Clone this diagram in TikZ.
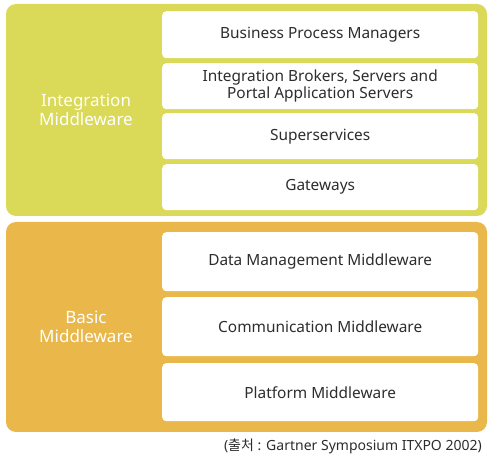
\documentclass[tikz,border=0pt]{standalone}
\usepackage{fontspec}
\setmainfont{Noto Sans}
\newfontfamily\krfont{Noto Sans CJK KR}
\begin{document}
\begin{tikzpicture}[x=1pt,y=-1pt,
  panel/.style={rounded corners=10pt},
  layerbox/.style={fill=white,rounded corners=4pt,draw=none,anchor=north west,
    minimum width=316pt,text=textgray,font=\fontsize{15.4}{17}\selectfont,align=center,inner sep=0pt},
  sidelabel/.style={text=white,font=\fontsize{17}{18.5}\selectfont,align=center}]
\definecolor{topfill}{RGB}{218,217,88}
\definecolor{botfill}{RGB}{233,183,74}
\definecolor{textgray}{RGB}{45,45,45}
\useasboundingbox (0,0) rectangle (496,457);
\fill[white] (0,0) rectangle (496,457);
% two middleware bands
\fill[topfill,panel] (6,4) rectangle (487,216);
\fill[botfill,panel] (6,222) rectangle (487,432);
\node[sidelabel] (integ) at (86,110) {Integration\\Middleware};
\node[sidelabel] (basic) at (86,327) {Basic\\Middleware};
% integration layers
\node[layerbox,minimum height=47pt] (bpm) at (162,11) {Business Process Managers};
\node[layerbox,minimum height=46pt] (brok) at (162,63) {Integration Brokers, Servers and\\Portal Application Servers};
\node[layerbox,minimum height=46pt] (super) at (162,113) {Superservices};
\node[layerbox,minimum height=46pt] (gate) at (162,164) {Gateways};
% basic layers
\node[layerbox,minimum height=59pt] (data) at (162,232) {Data Management Middleware};
\node[layerbox,minimum height=59pt] (comm) at (162,297) {Communication Middleware};
\node[layerbox,minimum height=58pt] (plat) at (162,363) {Platform Middleware};
\node[anchor=east,text=textgray,font=\fontsize{14}{15}\selectfont,inner sep=0pt] (src) at (482,446) {({\krfont 출처} : Gartner Symposium ITXPO 2002)};
\end{tikzpicture}
\end{document}
